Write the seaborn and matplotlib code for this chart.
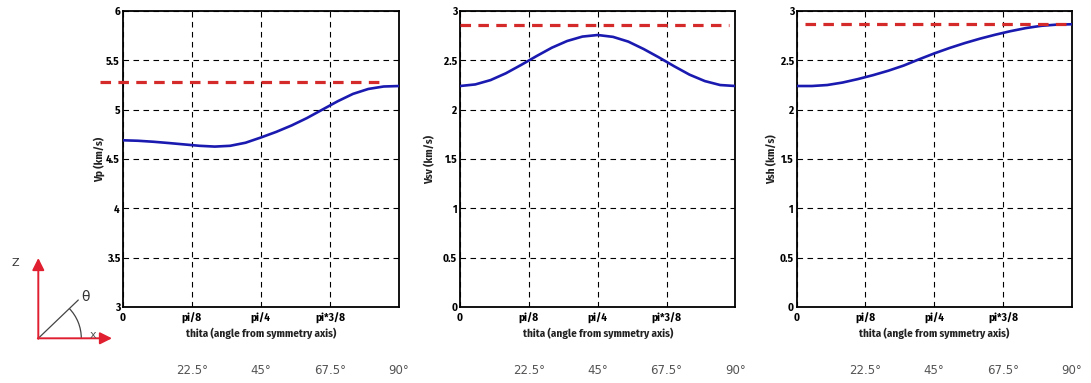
import numpy as np
import pandas as pd
import matplotlib
matplotlib.use("Agg")
import matplotlib.pyplot as plt
import matplotlib.transforms as mtransforms
from matplotlib.patches import Arc
import seaborn as sns

# Propagation angle from the symmetry axis (degrees)
theta_deg = [0, 5, 10, 15, 20, 25, 30, 35, 40, 45, 50, 55, 60, 65, 70, 75, 80, 85, 90]

# Phase velocities (km/s) of the anisotropic medium
vp = [4.69, 4.685, 4.675, 4.662, 4.648, 4.634, 4.626, 4.634, 4.665, 4.718,
      4.775, 4.84, 4.915, 5.00, 5.085, 5.16, 5.21, 5.235, 5.24]
vsv = [2.24, 2.256, 2.300, 2.369, 2.454, 2.543, 2.628, 2.696, 2.741, 2.757,
       2.738, 2.69, 2.615, 2.53, 2.44, 2.355, 2.29, 2.25, 2.24]
vsh = [2.24, 2.24, 2.25, 2.275, 2.31, 2.35, 2.395, 2.447, 2.51, 2.57,
       2.625, 2.675, 2.72, 2.76, 2.796, 2.827, 2.850, 2.862, 2.866]

# Isotropic reference velocities (km/s) and the angular span of each reference line (degrees)
vp_ref = 5.28
vsv_ref = 2.86
vsh_ref = 2.865
ref_span = [(-7.4, 85.0), (0.0, 88.0), (2.7, 90.0)]

panel_names = ["Vp (km/s)", "Vsv (km/s)", "Vsh (km/s)"]
panel_ylims = [(3.0, 6.0), (0.0, 3.0), (0.0, 3.0)]
xtick_labels = ["0", "pi/8", "pi/4", "pi*3/8"]
deg_labels = ["22.5°", "45°", "67.5°", "90°"]
deg_values = [22.5, 45.0, 67.5, 90.0]

sns.set_theme(style="white")
plt.rcParams["font.family"] = ["Fira Sans Condensed", "Liberation Sans Narrow", "DejaVu Sans"]

BLUE = "#1a1ab0"
RED = "#d42a2a"

fig = plt.figure(figsize=(10.91, 3.83), dpi=100)
axes_rects = [
    [0.1125, 0.1984, 0.2532, 0.7728],
    [0.4216, 0.1984, 0.2525, 0.7728],
    [0.7302, 0.1984, 0.2521, 0.7728],
]
ylabel_x = [-0.062, -0.09, -0.068]

theta_rad = np.deg2rad(theta_deg)
curves = [vp, vsv, vsh]
refs = [vp_ref, vsv_ref, vsh_ref]

for i in range(3):
    ax = fig.add_axes(axes_rects[i])
    df = pd.DataFrame({"theta": theta_rad, "v": curves[i]})
    sns.lineplot(data=df, x="theta", y="v", ax=ax, color=BLUE, linewidth=1.9,
                 zorder=4)
    span = np.deg2rad(ref_span[i])
    ref_df = pd.DataFrame({"theta": list(span), "v": [refs[i], refs[i]]})
    ref_line = sns.lineplot(data=ref_df, x="theta", y="v", ax=ax, color=RED,
                            linewidth=2.3, zorder=5).lines[-1]
    ref_line.set_linestyle((0, (3.3, 2.3)))
    ref_line.set_clip_on(False)

    ax.set_xlim(0, np.pi / 2)
    ax.set_ylim(*panel_ylims[i])
    ax.set_xticks([0, np.pi / 8, np.pi / 4, 3 * np.pi / 8])
    ax.set_xticklabels(xtick_labels)
    ax.set_yticks(np.arange(panel_ylims[i][0], panel_ylims[i][1] + 0.01, 0.5))
    ax.set_yticklabels([f"{v:g}" for v in ax.get_yticks()])
    ax.tick_params(direction="in", length=3, width=0.8, pad=2,
                   labelsize=8, colors="black")
    ax.tick_params(axis="x", pad=4)
    for lab in ax.get_xticklabels() + ax.get_yticklabels():
        lab.set_fontweight("bold")
    ax.grid(True, color="black", linestyle=(0, (5, 4)), linewidth=0.8)
    for sp in ax.spines.values():
        sp.set_color("black")
        sp.set_linewidth(1.3)

    ax.set_xlabel("thita (angle from symmetry axis)", fontsize=8,
                  fontweight="bold", color="#222222")
    ax.xaxis.set_label_coords(0.5, -0.072)
    ax.set_ylabel(panel_names[i], fontsize=8, fontweight="bold",
                  color="#222222")
    ax.yaxis.set_label_coords(ylabel_x[i], 0.5)

    # Degree equivalents of the angular ticks, below the axis title
    trans = mtransforms.blended_transform_factory(ax.transData, ax.transAxes)
    for lab, d in zip(deg_labels, deg_values):
        ax.text(np.deg2rad(d), -0.213, lab, transform=trans, ha="center",
                va="center", fontsize=8.5, color="#555555",
                family=["DejaVu Sans"])

# Coordinate sketch: symmetry axis Z, horizontal x, and the angle theta
sk = fig.add_axes([0, 0, 1, 1], facecolor="none")
sk.set_xlim(0, 1091)
sk.set_ylim(383, 0)
sk.axis("off")
ox, oy = 38.3, 338.3
arrow_style = "-|>,head_length=0.6,head_width=0.3"
sk.annotate("", xy=(ox, 258), xytext=(ox, oy + 0.5),
            arrowprops=dict(arrowstyle=arrow_style, color="#e02030",
                            lw=1.4, mutation_scale=12, shrinkA=0, shrinkB=0))
sk.annotate("", xy=(112, oy), xytext=(ox - 0.5, oy),
            arrowprops=dict(arrowstyle=arrow_style, color="#e02030",
                            lw=1.4, mutation_scale=12, shrinkA=0, shrinkB=0))
sk.plot([ox, 78.3], [oy, 300], color="#444444", lw=0.9)
sk.add_patch(Arc((ox, oy), 86, 86, theta1=-44, theta2=0, color="#444444",
                 lw=0.9))
sk.text(15, 263, "Z", fontsize=8, color="#333333", ha="center", va="center",
        family=["DejaVu Sans"])
sk.text(85, 297, "θ", fontsize=10, color="#333333", ha="center", va="center",
        family=["DejaVu Sans"])
sk.text(93, 334.5, "x", fontsize=8, color="#555555", ha="center", va="center",
        family=["DejaVu Sans"])

fig.savefig("out.png", dpi=100)
